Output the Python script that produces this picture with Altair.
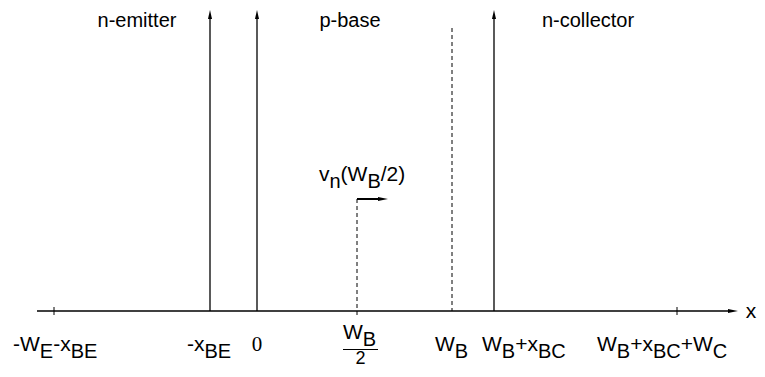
import altair as alt
import pandas as pd

# ---- diagram data (pixel-like diagram units) ----
axis_y = 311
axis_start, axis_tip = 37, 738
plain_tick_x = [54, 677]
arrow_x = [210, 257, 494]          # -xBE, 0, WB+xBC
arrow_tip_y = 10
dash_x = [452, 357]                # WB, WB/2
dash_top = [28, 199]
dash_bottom = [311, 315]
flow_x0, flow_x1, flow_y = 357, 388, 199

region_names = ["n-emitter", "p-base", "n-collector"]
region_center = [137, 350, 588]
region_base = 27

# tick labels: (left x, main baseline, segments[(text, is_sub)])
tick_labels = [
    (13, 351, [("-W", 0), ("E", 1), ("-x", 0), ("BE", 1)]),
    (187, 351, [("-x", 0), ("BE", 1)]),
    (435, 351, [("W", 0), ("B", 1)]),
    (482, 351, [("W", 0), ("B", 1), ("+x", 0), ("BC", 1)]),
    (597, 351, [("W", 0), ("B", 1), ("+x", 0), ("BC", 1), ("+W", 0), ("C", 1)]),
    (343, 339, [("W", 0), ("B", 1)]),
    (319, 181, [("v", 0), ("n", 1), ("(W", 0), ("B", 1), ("/2)", 0)]),
]
zero_label = ("0", 257, 351)
frac_bar = (343, 378, 349.5)
frac_den = ("2", 360.5, 364)
x_label = ("x", 751, 318)

FS_MAIN, FS_SUB, SUB_DROP = 21, 20, 7
W = {'-': 0.333, 'W': 0.944, 'E': 0.667, 'x': 0.5, 'B': 0.667, 'C': 0.722,
     '+': 0.584, 'v': 0.5, 'n': 0.556, '(': 0.333, ')': 0.333, '/': 0.278, '2': 0.556}

# ---- build tables ----
seg_rows = []
for left, base, segs in tick_labels:
    cx = left
    for txt, sub in segs:
        fs = FS_SUB if sub else FS_MAIN
        seg_rows.append({"x": cx, "y": base + (SUB_DROP if sub else 0), "t": txt, "fs": fs})
        cx += sum(W[c] for c in txt) * fs
segs_df = pd.DataFrame(seg_rows)

center_rows = [
    {"x": frac_den[1], "y": frac_den[2], "t": frac_den[0], "fs": 18},
    {"x": x_label[1], "y": x_label[2], "t": x_label[0], "fs": FS_MAIN},
]
for name, c in zip(region_names, region_center):
    center_rows.append({"x": c, "y": region_base, "t": name, "fs": 20})
center_text = pd.DataFrame(center_rows)
serif_text = pd.DataFrame([{"x": zero_label[1], "y": zero_label[2], "t": zero_label[0]}])

solid_rules = pd.DataFrame(
    [{"x": axis_start, "x2": axis_tip - 6, "y": axis_y, "y2": axis_y, "w": 1.3}]
    + [{"x": a, "x2": a, "y": axis_y, "y2": arrow_tip_y + 6, "w": 1.3} for a in arrow_x]
    + [{"x": t, "x2": t, "y": axis_y - 4, "y2": axis_y + 4, "w": 1} for t in plain_tick_x]
    + [{"x": flow_x0, "x2": flow_x1 - 6, "y": flow_y, "y2": flow_y, "w": 2}]
    + [{"x": frac_bar[0], "x2": frac_bar[1], "y": frac_bar[2], "y2": frac_bar[2], "w": 1.2}]
)
dash_rules = pd.DataFrame([{"x": x, "y": t, "y2": b} for x, t, b in zip(dash_x, dash_top, dash_bottom)])

up_heads = pd.DataFrame([{"x": a, "y": arrow_tip_y + 4.5} for a in arrow_x])
right_heads = pd.DataFrame([{"x": axis_tip - 5, "y": axis_y}, {"x": flow_x1 - 5, "y": flow_y}])

xs = alt.Scale(domain=[8, 757], range=[0, 749], nice=False, zero=False)
ys = alt.Scale(domain=[8, 369], nice=False, zero=False, reverse=True)

X = lambda f="x": alt.X(f"{f}:Q", scale=xs, axis=None)
Y = lambda f="y": alt.Y(f"{f}:Q", scale=ys, axis=None)

rules = alt.Chart(solid_rules).mark_rule(color="black").encode(
    x=X(), x2="x2:Q", y=Y(), y2="y2:Q", strokeWidth=alt.StrokeWidth("w:Q", scale=None))
dashes = alt.Chart(dash_rules).mark_rule(color="black", strokeDash=[4, 3], strokeWidth=1).encode(
    x=X(), y=Y(), y2="y2:Q")
heads_up = alt.Chart(up_heads).mark_point(
    shape="M0,-1L0.45,1L-0.45,1Z", filled=True, color="black", opacity=1, size=81, strokeWidth=0
).encode(x=X(), y=Y())
heads_right = alt.Chart(right_heads).mark_point(
    shape="M1,0L-1,-0.42L-1,0.42Z", filled=True, color="black", opacity=1, size=100, strokeWidth=0
).encode(x=X(), y=Y())
texts = alt.Chart(segs_df).mark_text(
    align="left", baseline="alphabetic", font="Liberation Sans", color="black"
).encode(x=X(), y=Y(), text="t:N", size=alt.Size("fs:Q", scale=None))
ctexts = alt.Chart(center_text).mark_text(
    align="center", baseline="alphabetic", font="Liberation Sans", color="black"
).encode(x=X(), y=Y(), text="t:N", size=alt.Size("fs:Q", scale=None))
stexts = alt.Chart(serif_text).mark_text(
    align="center", baseline="alphabetic", font="Liberation Serif", fontSize=21, color="black"
).encode(x=X(), y=Y(), text="t:N")

chart = alt.layer(rules, dashes, heads_up, heads_right, texts, ctexts, stexts).properties(
    width=749, height=361, autosize=alt.AutoSizeParams(type="none"), padding=0
).configure_view(stroke=None)

chart.save("out.html", embed_options={"renderer": "svg", "actions": False})
